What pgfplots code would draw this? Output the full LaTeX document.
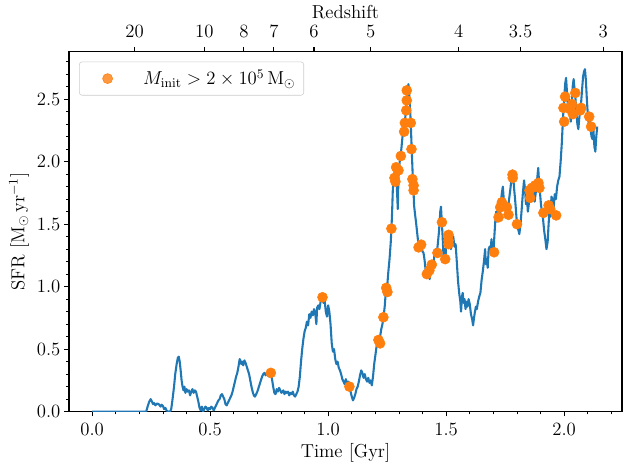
\RequirePackage{fix-cm}
\documentclass[border=0pt]{standalone}
\usepackage{pgfplots}
\pgfplotsset{compat=1.18}
\definecolor{mplblue}{RGB}{31,119,180}
\definecolor{mplorange}{RGB}{255,127,14}
\newcommand{\fs}{\fontsize{13.5}{16}\selectfont}
\begin{document}
\fs
\begin{tikzpicture}
\begin{axis}[
  scale only axis, width=398.2pt, height=259.2pt,
  xmin=-0.098, xmax=2.245, ymin=0, ymax=2.88,
  axis line style={line width=0.8pt},
  tick align=outside, xtick pos=lower, ytick pos=left,
  xtick={0,0.5,1,1.5,2}, ytick={0,0.5,1,1.5,2,2.5},
  minor xtick={0.1,0.2,0.3,0.4,0.6,0.7,0.8,0.9,1.1,1.2,1.3,1.4,1.6,1.7,1.8,1.9,2.1,2.2},
  minor ytick={0.1,0.2,0.3,0.4,0.6,0.7,0.8,0.9,1.1,1.2,1.3,1.4,1.6,1.7,1.8,1.9,2.1,2.2,2.3,2.4,2.6,2.7,2.8},
  major tick length=3.5pt, minor tick length=2pt,
  every major tick/.append style={line width=0.8pt, black},
  every minor tick/.append style={line width=0.6pt, black},
  xticklabel style={/pgf/number format/fixed, /pgf/number format/fixed zerofill, /pgf/number format/precision=1},
  yticklabel style={xshift=2pt, /pgf/number format/fixed, /pgf/number format/fixed zerofill, /pgf/number format/precision=1},
  tick label style={font=\fs},
  label style={font=\fs},
  xlabel={Time [Gyr]},
  xlabel style={at={(rel axis cs:0.5,-0.1146)}, anchor=center},
  ylabel={SFR [$\mathrm{M}_\odot\,\mathrm{yr}^{-1}$]},
  ylabel style={at={(rel axis cs:-0.0904,0.5)}, anchor=center},
  legend cell align=left,
  legend style={at={(0,1)}, anchor=north west, xshift=7.2pt, yshift=-7.2pt,
    draw=black!20, rounded corners=2pt, fill=white, fill opacity=0.8, text opacity=1,
    inner xsep=4pt, inner ysep=3.5pt, font=\fs},
  legend image code/.code={\path (-16.2pt,0pt) (23.3pt,0pt); \fill[mplorange] (0pt,0pt) circle (3.6pt);},
]
\coordinate (bl) at (rel axis cs:0,0);
\coordinate (tr) at (rel axis cs:1,1);
\addplot[mplblue, line width=1.5pt, line join=round, forget plot] coordinates {
(0,0) (0.229,0) (0.235,0.04) (0.242,0.08) (0.248,0.10) (0.252,0.085) (0.258,0.06) (0.262,0.07) (0.268,0.05) (0.275,0.065) (0.282,0.06) (0.29,0.04) (0.295,0.055) (0.30,0.045) (0.305,0.02) (0.31,0.03) (0.315,0.01) (0.322,0.0) (0.33,0.0) (0.335,0.02) (0.34,0.09) (0.347,0.2) (0.352,0.3) (0.358,0.38) (0.363,0.43) (0.367,0.44) (0.371,0.40) (0.375,0.33) (0.379,0.25) (0.383,0.2) (0.387,0.17) (0.391,0.2) (0.395,0.15) (0.40,0.18) (0.405,0.16) (0.41,0.17) (0.415,0.13) (0.42,0.16) (0.425,0.18) (0.43,0.15) (0.435,0.17) (0.44,0.16) (0.445,0.12) (0.45,0.08) (0.455,0.03) (0.46,0.01) (0.465,0.04) (0.47,0.0) (0.475,0.02) (0.48,0.04) (0.485,0.03) (0.49,0.01) (0.495,0.03) (0.50,0.02) (0.505,0.04) (0.51,0.03) (0.515,0.01) (0.52,0.03) (0.525,0.05) (0.53,0.07) (0.535,0.09) (0.54,0.1) (0.545,0.13) (0.55,0.14) (0.555,0.12) (0.56,0.1) (0.565,0.06) (0.57,0.05) (0.575,0.07) (0.58,0.09) (0.585,0.11) (0.59,0.13) (0.595,0.16) (0.60,0.2) (0.605,0.24) (0.61,0.28) (0.615,0.31) (0.62,0.36) (0.625,0.42) (0.628,0.41) (0.632,0.38) (0.636,0.40) (0.64,0.37) (0.645,0.41) (0.65,0.39) (0.655,0.36) (0.66,0.33) (0.665,0.3) (0.67,0.25) (0.675,0.2) (0.68,0.16) (0.685,0.13) (0.69,0.12) (0.695,0.14) (0.70,0.16) (0.705,0.19) (0.71,0.22) (0.715,0.25) (0.72,0.28) (0.725,0.3) (0.73,0.31) (0.735,0.29) (0.74,0.31) (0.745,0.3) (0.75,0.28) (0.757,0.31) (0.762,0.26) (0.767,0.2) (0.772,0.15) (0.777,0.14) (0.782,0.18) (0.787,0.16) (0.792,0.19) (0.797,0.17) (0.802,0.15) (0.81,0.17) (0.815,0.14) (0.82,0.16) (0.825,0.15) (0.83,0.16) (0.835,0.13) (0.84,0.15) (0.845,0.14) (0.85,0.16) (0.855,0.13) (0.86,0.12) (0.865,0.14) (0.87,0.16) (0.875,0.2) (0.88,0.28) (0.885,0.4) (0.89,0.5) (0.895,0.58) (0.90,0.64) (0.905,0.67) (0.91,0.72) (0.915,0.69) (0.92,0.78) (0.925,0.75) (0.93,0.8) (0.935,0.77) (0.94,0.82) (0.945,0.79) (0.95,0.7) (0.953,0.83) (0.958,0.85) (0.963,0.82) (0.968,0.88) (0.972,0.9) (0.976,0.915) (0.98,0.87) (0.985,0.89) (0.99,0.8) (0.995,0.76) (1.0,0.85) (1.005,0.8) (1.01,0.7) (1.015,0.55) (1.02,0.48) (1.025,0.5) (1.03,0.42) (1.035,0.38) (1.04,0.4) (1.045,0.35) (1.05,0.33) (1.055,0.3) (1.06,0.26) (1.065,0.24) (1.07,0.22) (1.075,0.26) (1.08,0.22) (1.085,0.24) (1.09,0.2) (1.095,0.16) (1.10,0.12) (1.105,0.09) (1.11,0.11) (1.115,0.14) (1.12,0.18) (1.125,0.2) (1.13,0.24) (1.135,0.29) (1.14,0.33) (1.145,0.31) (1.15,0.27) (1.155,0.3) (1.16,0.26) (1.165,0.24) (1.17,0.27) (1.175,0.23) (1.18,0.25) (1.185,0.21) (1.19,0.28) (1.195,0.38) (1.2,0.45) (1.205,0.52) (1.21,0.56) (1.215,0.57) (1.22,0.6) (1.225,0.66) (1.23,0.7) (1.235,0.76) (1.24,0.85) (1.245,0.98) (1.25,1.0) (1.255,1.12) (1.26,1.22) (1.265,1.35) (1.268,1.46) (1.271,1.6) (1.274,1.78) (1.278,1.86) (1.282,1.93) (1.285,1.85) (1.288,1.95) (1.292,1.75) (1.295,1.62) (1.298,1.9) (1.302,1.98) (1.306,2.05) (1.31,2.1) (1.315,2.2) (1.32,2.25) (1.325,2.32) (1.328,2.38) (1.331,2.45) (1.334,2.55) (1.337,2.58) (1.34,2.62) (1.343,2.55) (1.346,2.45) (1.349,2.35) (1.352,2.2) (1.355,2.05) (1.358,1.9) (1.361,1.8) (1.364,1.65) (1.368,1.58) (1.372,1.52) (1.376,1.45) (1.38,1.38) (1.384,1.32) (1.388,1.3) (1.392,1.35) (1.396,1.33) (1.40,1.28) (1.404,1.27) (1.408,1.22) (1.412,1.15) (1.416,1.1) (1.42,1.08) (1.425,1.12) (1.43,1.06) (1.435,1.15) (1.44,1.19) (1.445,1.16) (1.45,1.25) (1.455,1.3) (1.46,1.26) (1.465,1.35) (1.47,1.45) (1.475,1.6) (1.478,1.64) (1.482,1.5) (1.485,1.4) (1.489,1.23) (1.493,1.3) (1.497,1.22) (1.50,1.35) (1.504,1.42) (1.508,1.36) (1.512,1.32) (1.516,1.38) (1.52,1.3) (1.525,1.36) (1.53,1.4) (1.535,1.32) (1.54,1.34) (1.545,1.2) (1.55,1.05) (1.555,0.95) (1.56,0.88) (1.563,0.8) (1.567,0.92) (1.57,0.95) (1.574,0.87) (1.578,0.9) (1.582,0.82) (1.586,0.88) (1.59,0.84) (1.595,0.9) (1.60,0.86) (1.605,0.78) (1.61,0.74) (1.614,0.69) (1.618,0.75) (1.622,0.8) (1.626,0.84) (1.63,0.82) (1.635,0.88) (1.64,0.92) (1.645,0.95) (1.65,1.05) (1.655,1.12) (1.66,1.2) (1.665,1.3) (1.668,1.18) (1.672,1.22) (1.676,1.15) (1.68,1.3) (1.684,1.32) (1.688,1.28) (1.692,1.38) (1.696,1.3) (1.70,1.25) (1.704,1.4) (1.708,1.52) (1.712,1.6) (1.716,1.52) (1.72,1.58) (1.724,1.65) (1.728,1.55) (1.732,1.68) (1.736,1.75) (1.74,1.8) (1.744,1.7) (1.748,1.62) (1.752,1.68) (1.756,1.6) (1.76,1.55) (1.764,1.66) (1.768,1.72) (1.772,1.78) (1.776,1.85) (1.78,1.93) (1.784,1.88) (1.788,1.78) (1.792,1.7) (1.796,1.6) (1.80,1.5) (1.805,1.46) (1.81,1.42) (1.815,1.5) (1.82,1.62) (1.825,1.75) (1.83,1.85) (1.834,1.78) (1.838,1.66) (1.842,1.72) (1.846,1.6) (1.85,1.66) (1.855,1.74) (1.86,1.7) (1.865,1.8) (1.87,1.75) (1.875,1.68) (1.88,1.76) (1.885,1.85) (1.89,1.95) (1.894,1.82) (1.898,1.74) (1.902,1.65) (1.906,1.6) (1.91,1.55) (1.915,1.45) (1.92,1.38) (1.925,1.3) (1.93,1.36) (1.934,1.5) (1.938,1.62) (1.942,1.56) (1.946,1.72) (1.95,1.7) (1.955,1.62) (1.96,1.74) (1.965,1.7) (1.97,1.8) (1.975,1.85) (1.98,1.88) (1.985,2.0) (1.99,2.15) (1.995,2.35) (2.0,2.5) (2.004,2.62) (2.008,2.67) (2.012,2.55) (2.016,2.42) (2.02,2.5) (2.024,2.38) (2.028,2.32) (2.032,2.45) (2.036,2.6) (2.04,2.66) (2.044,2.58) (2.048,2.5) (2.052,2.38) (2.056,2.3) (2.06,2.26) (2.064,2.35) (2.068,2.42) (2.072,2.48) (2.076,2.58) (2.08,2.68) (2.084,2.72) (2.088,2.74) (2.092,2.65) (2.096,2.5) (2.1,2.38) (2.104,2.3) (2.108,2.36) (2.112,2.25) (2.116,2.2) (2.12,2.18) (2.124,2.25) (2.128,2.12) (2.132,2.08) (2.136,2.2) (2.14,2.28)
};
\addplot[only marks, mark=*, mark size=3.6pt, mplorange, mark options={draw=mplorange, fill=mplorange}] coordinates {
(0.757,0.31) (0.976,0.915) (1.090,0.20) (1.213,0.573) (1.220,0.546) (1.234,0.755) (1.246,0.99) (1.251,0.957) (1.268,1.464) (1.281,1.87) (1.285,1.84) (1.288,1.955) (1.298,1.93) (1.308,2.045) (1.322,2.24) (1.325,2.31) (1.350,2.31) (1.331,2.41) (1.333,2.49) (1.333,2.57) (1.353,2.10) (1.357,1.86) (1.362,1.81) (1.362,1.77) (1.383,1.314) (1.394,1.336) (1.418,1.10) (1.429,1.13) (1.439,1.176) (1.463,1.27) (1.482,1.515) (1.496,1.22) (1.510,1.414) (1.510,1.37) (1.510,1.34) (1.703,1.275) (1.722,1.555) (1.729,1.635) (1.736,1.675) (1.757,1.635) (1.764,1.575) (1.781,1.896) (1.782,1.87) (1.800,1.50) (1.856,1.71) (1.863,1.79) (1.877,1.81) (1.891,1.83) (1.895,1.79) (1.853,1.77) (1.912,1.59) (1.934,1.65) (1.941,1.62) (1.966,1.57) (2.004,2.52) (1.997,2.43) (2.000,2.32) (2.033,2.46) (2.047,2.55) (2.037,2.38) (2.025,2.42) (2.068,2.41) (2.072,2.43) (2.106,2.36) (2.114,2.28)
};
\addlegendentry{$M_{\mathrm{init}} > 2\times 10^{5}\,\mathrm{M}_{\odot}$}
\end{axis}
\begin{axis}[
  scale only axis, width=398.2pt, height=259.2pt,
  xmin=-0.098, xmax=2.245, ymin=0, ymax=1,
  axis x line=top, axis y line=none,
  axis line style={-, line width=0.8pt},
  tick align=outside, major tick length=3.5pt,
  every major tick/.append style={line width=0.8pt, black},
  xtick={0.180,0.475,0.643,0.770,0.940,1.180,1.553,1.815,2.165},
  xticklabels={20,10,8,7,6,5,4,3.5,3},
  minor xtick={},
  tick label style={font=\fs},
  xticklabel style={yshift=1.8pt},
  label style={font=\fs},
  xlabel={Redshift},
  xlabel style={at={(rel axis cs:0.5,1.1103)}, anchor=center},
]
\end{axis}
\pgfresetboundingbox
\path ([shift={(-49.7pt,-40.5pt)}]bl) rectangle ([shift={(0.72pt,37.2pt)}]tr);
\end{tikzpicture}
\end{document}
